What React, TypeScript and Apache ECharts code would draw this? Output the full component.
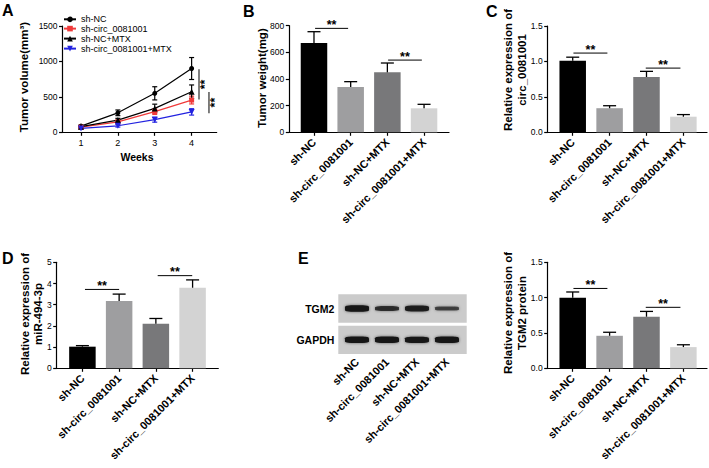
import React, { useEffect, useRef } from "react";
import * as echarts from "echarts";

const FONT = "'Liberation Sans', Arial, sans-serif";

// ---------- data ----------
const groups = ["sh-NC", "sh-circ_0081001", "sh-NC+MTX", "sh-circ_0081001+MTX"];
const weeks = [1, 2, 3, 4];
const weekTicks = [1, 2, 3, 4];

const volNC = [88, 275, 550, 900];
const volNCErr = [15, 40, 93, 155];
const volCirc = [72, 148, 292, 455];
const volCircErr = [10, 20, 40, 55];
const volNCMTX = [80, 172, 337, 573];
const volNCMTXErr = [12, 25, 60, 95];
const volCircMTX = [55, 92, 178, 288];
const volCircMTXErr = [8, 18, 35, 45];

const weightVals = [670, 340, 450, 180];
const weightErr = [85, 40, 70, 30];
const circVals = [1.01, 0.34, 0.78, 0.22];
const circErr = [0.05, 0.035, 0.08, 0.03];
const mirVals = [1.02, 3.18, 2.1, 3.8];
const mirErr = [0.05, 0.32, 0.25, 0.37];
const tgm2Vals = [1.0, 0.46, 0.73, 0.3];
const tgm2Err = [0.08, 0.05, 0.075, 0.033];

const blotTGM2 = [1.0, 0.6, 0.9, 0.4];
const blotGAPDH = [1.0, 1.0, 0.97, 1.0];

// significance brackets: [from, to, level]
const sigA = [[4.2, 890, 462], [4.47, 570, 268]];
const sigB = [[0.03, 0.93, 780], [2.02, 2.94, 542]];
const sigC = [[0.02, 0.94, 1.118], [1.98, 2.92, 0.906]];
const sigD = [[0.07, 1.0, 3.72], [2.05, 2.99, 4.37]];
const sigE = [[0.02, 0.94, 1.13], [1.98, 2.92, 0.863]];

const catIdx = [0, 1, 2, 3];
const barColors = ["#000000", "#9e9ea0", "#78787a", "#d3d3d3"];

// ---------- helpers ----------
const axisLine = { show: true, onZero: false, lineStyle: { color: "#000", width: 1.2 } };
const tickStyle = { color: "#000", width: 1.2 };
const CAT_FONT = 11;

function yAxis(grid: number, min: number, max: number, interval: number, dec = 0) {
  return {
    gridIndex: grid,
    type: "value",
    min,
    max,
    interval,
    axisLine,
    axisTick: { show: true, length: 3.5, lineStyle: tickStyle },
    axisLabel: {
      fontSize: 8.5,
      color: "#000",
      margin: 5,
      fontFamily: FONT,
      formatter: (v: number) => v.toFixed(dec),
    },
    splitLine: { show: false },
  };
}

function xCat(grid: number, min: number, max: number) {
  return {
    gridIndex: grid,
    type: "value",
    min,
    max,
    axisLine,
    axisTick: { show: true, length: 3.5, customValues: catIdx, lineStyle: tickStyle },
    axisLabel: {
      customValues: catIdx,
      formatter: (v: number) => groups[Math.round(v)],
      rotate: 45,
      fontSize: CAT_FONT,
      fontWeight: "bold",
      margin: 8,
      color: "#000",
      fontFamily: FONT,
    },
    splitLine: { show: false },
  };
}

const errUp = (params: any, api: any) => {
  const x = api.value(0), v = api.value(1), e = api.value(2);
  const p0 = api.coord([x, v]);
  const p1 = api.coord([x, v + e]);
  const st = { stroke: "#000", lineWidth: 1.3 };
  return {
    type: "group",
    children: [
      { type: "line", shape: { x1: p0[0], y1: p0[1], x2: p1[0], y2: p1[1] }, style: st },
      { type: "line", shape: { x1: p1[0] - 6.5, y1: p1[1], x2: p1[0] + 6.5, y2: p1[1] }, style: st },
    ],
  };
};

const errBoth = (color: string) => (params: any, api: any) => {
  const x = api.value(0), v = api.value(1), e = api.value(2);
  const pt = api.coord([x, v + e]);
  const pb = api.coord([x, v - e]);
  const st = { stroke: color, lineWidth: 1.2 };
  return {
    type: "group",
    children: [
      { type: "line", shape: { x1: pt[0], y1: pt[1], x2: pb[0], y2: pb[1] }, style: st },
      { type: "line", shape: { x1: pt[0] - 2.5, y1: pt[1], x2: pt[0] + 2.5, y2: pt[1] }, style: st },
      { type: "line", shape: { x1: pb[0] - 2.5, y1: pb[1], x2: pb[0] + 2.5, y2: pb[1] }, style: st },
    ],
  };
};

const sigRender = (params: any, api: any) => {
  const a = api.coord([api.value(0), api.value(2)]);
  const b = api.coord([api.value(1), api.value(2)]);
  return {
    type: "group",
    children: [
      { type: "line", shape: { x1: a[0], y1: a[1], x2: b[0], y2: b[1] }, style: { stroke: "#000", lineWidth: 1 } },
      {
        type: "text",
        x: (a[0] + b[0]) / 2,
        y: a[1] + 3,
        style: {
          text: "**",
          fontSize: 12.5,
          fontWeight: "bold",
          fontFamily: FONT,
          fill: "#000",
          align: "center",
          verticalAlign: "bottom",
        },
      },
    ],
  };
};

const vSigRender = (params: any, api: any) => {
  const a = api.coord([api.value(0), api.value(1)]);
  const b = api.coord([api.value(0), api.value(2)]);
  return {
    type: "group",
    children: [
      { type: "line", shape: { x1: a[0], y1: a[1], x2: b[0], y2: b[1] }, style: { stroke: "#555", lineWidth: 1.5 } },
      {
        type: "text",
        x: a[0] + 6.5,
        y: (a[1] + b[1]) / 2,
        rotation: Math.PI / 2,
        style: {
          text: "**",
          fontSize: 12.5,
          fontWeight: "bold",
          fontFamily: FONT,
          fill: "#000",
          align: "center",
          verticalAlign: "middle",
        },
      },
    ],
  };
};

function txt(text: string, x: number, y: number, size: number, opts: any = {}) {
  return {
    type: "text",
    x,
    y,
    rotation: opts.rot || 0,
    style: {
      text,
      fontSize: size,
      fontWeight: opts.weight || "bold",
      fontFamily: FONT,
      fill: "#000",
      align: opts.align || "center",
      verticalAlign: opts.va || "middle",
      textAlign: opts.align || "center",
      textVerticalAlign: opts.va || "middle",
    },
  };
}

function barSeries(grid: number, vals: number[], errs: number[], sig: number[][]) {
  return [
    {
      type: "bar",
      xAxisIndex: grid,
      yAxisIndex: grid,
      barWidth: 26.5,
      data: vals.map((v, i) => ({ value: [i, v], itemStyle: { color: barColors[i] } })),
    },
    {
      type: "custom",
      xAxisIndex: grid,
      yAxisIndex: grid,
      renderItem: errUp,
      data: vals.map((v, i) => [i, v, errs[i]]),
      z: 5,
    },
    {
      type: "custom",
      xAxisIndex: grid,
      yAxisIndex: grid,
      renderItem: sigRender,
      data: sig,
      z: 5,
    },
  ];
}

const lineDefs = [
  { name: groups[0], vals: volNC, errs: volNCErr, color: "#000000", symbol: "circle", size: 5, rot: 0 },
  { name: groups[1], vals: volCirc, errs: volCircErr, color: "#f03a3a", symbol: "rect", size: 5, rot: 0 },
  { name: groups[2], vals: volNCMTX, errs: volNCMTXErr, color: "#000000", symbol: "triangle", size: 6, rot: 0 },
  { name: groups[3], vals: volCircMTX, errs: volCircMTXErr, color: "#2222e0", symbol: "triangle", size: 6, rot: 180 },
];
const legendTops = [14.8, 24.1, 34.1, 44.1];

export default function App() {
  const ref = useRef<HTMLDivElement>(null);
  useEffect(() => {
    if (!ref.current) return;
    const chart = echarts.init(ref.current, null, { renderer: "svg" });

    const series: any[] = [];
    lineDefs.forEach((d) => {
      series.push({
        type: "line",
        name: d.name,
        xAxisIndex: 0,
        yAxisIndex: 0,
        data: weeks.map((w, i) => [w, d.vals[i]]),
        symbol: d.symbol,
        symbolSize: d.size,
        symbolRotate: d.rot,
        color: d.color,
        itemStyle: { color: d.color },
        lineStyle: { color: d.color, width: 1.2 },
        z: 3,
      });
      series.push({
        type: "custom",
        xAxisIndex: 0,
        yAxisIndex: 0,
        renderItem: errBoth(d.color),
        data: weeks.map((w, i) => [w, d.vals[i], d.errs[i]]),
        z: 2,
      });
    });
    series.push({ type: "custom", xAxisIndex: 0, yAxisIndex: 0, renderItem: vSigRender, data: sigA, z: 5 });

    series.push(...barSeries(1, weightVals, weightErr, sigB));
    series.push(...barSeries(2, circVals, circErr, sigC));
    series.push(...barSeries(3, mirVals, mirErr, sigD));
    series.push(...barSeries(6, tgm2Vals, tgm2Err, sigE));

    const bandSeries = (grid: number, vals: number[]) => ({
      type: "scatter",
      xAxisIndex: grid,
      yAxisIndex: grid,
      symbol: "roundRect",
      symbolSize: (val: number[]) => [24, 2.5 + 4 * val[2]],
      data: vals.map((v, i) => ({ value: [i, 0, v], itemStyle: { opacity: 0.45 + 0.55 * v } })),
      itemStyle: { color: "#141414", shadowBlur: 3, shadowColor: "rgba(0,0,0,0.55)" },
    });
    series.push(bandSeries(4, blotTGM2));
    series.push(bandSeries(5, blotGAPDH));

    const option: any = {
      animation: false,
      backgroundColor: "#ffffff",
      textStyle: { fontFamily: FONT },
      legend: lineDefs.map((d, i) => ({
        data: [d.name],
        left: 63,
        top: legendTops[i],
        orient: "vertical",
        itemWidth: 12,
        itemHeight: 7,
        padding: 0,
        itemGap: 0,
        selectedMode: false,
        textStyle: { fontSize: 9, color: "#000", fontFamily: FONT },
      })),
      grid: [
        { left: 62.55, top: 26, width: 154.15, height: 106.3 },
        { left: 289.3, top: 25.7, width: 159.7, height: 106.6 },
        { left: 547.7, top: 26, width: 159.3, height: 106.3 },
        { left: 56.7, top: 262.3, width: 161.6, height: 106 },
        { left: 338.3, top: 294.3, width: 128.4, height: 28.4, show: true, backgroundColor: "#cbcbcb", borderWidth: 0 },
        { left: 338.3, top: 325.7, width: 128.4, height: 28.3, show: true, backgroundColor: "#cbcbcb", borderWidth: 0 },
        { left: 547.7, top: 262.3, width: 159.3, height: 106 },
      ],
      xAxis: [
        {
          gridIndex: 0,
          type: "value",
          min: 0.5,
          max: 4.68,
          axisLine,
          axisTick: { show: true, length: 3.5, customValues: weekTicks, lineStyle: tickStyle },
          axisLabel: {
            customValues: weekTicks,
            fontSize: 9,
            color: "#000",
            margin: 6,
            fontFamily: FONT,
          },
          splitLine: { show: false },
        },
        xCat(1, -0.673, 3.68),
        xCat(2, -0.678, 3.64),
        xCat(3, -0.7, 3.7),
        { gridIndex: 4, type: "value", min: -0.623, max: 3.657, show: false },
        {
          gridIndex: 5,
          type: "value",
          min: -0.623,
          max: 3.657,
          axisLine: { show: false, onZero: false },
          axisTick: { show: false },
          splitLine: { show: false },
          axisLabel: {
            customValues: catIdx,
            formatter: (v: number) => groups[Math.round(v)],
            rotate: 45,
            fontSize: CAT_FONT,
            fontWeight: "bold",
            margin: 6,
            color: "#000",
            fontFamily: FONT,
          },
        },
        xCat(6, -0.678, 3.64),
      ],
      yAxis: [
        yAxis(0, 0, 1500, 500),
        yAxis(1, 0, 800, 200),
        yAxis(2, 0, 1.5, 0.5, 1),
        yAxis(3, 0, 5, 1),
        {
          gridIndex: 4,
          type: "category",
          data: ["TGM2"],
          axisLine: { show: false, onZero: false },
          axisTick: { show: false },
          axisLabel: { fontSize: 10.5, fontWeight: "bold", margin: 4, color: "#000", fontFamily: FONT },
        },
        {
          gridIndex: 5,
          type: "category",
          data: ["GAPDH"],
          axisLine: { show: false, onZero: false },
          axisTick: { show: false },
          axisLabel: { fontSize: 10.5, fontWeight: "bold", margin: 4, color: "#000", fontFamily: FONT },
        },
        yAxis(6, 0, 1.5, 0.5, 1),
      ],
      graphic: [
        txt("A", 2, 2, 16, { align: "left", va: "top" }),
        txt("B", 243, 3, 16, { align: "left", va: "top" }),
        txt("C", 486, 3, 16, { align: "left", va: "top" }),
        txt("D", 2, 250, 16, { align: "left", va: "top" }),
        txt("E", 298, 250, 16, { align: "left", va: "top" }),
        txt("Tumor volume(mm\u00B3)", 24, 77, 11.5, { rot: Math.PI / 2 }),
        txt("Weeks", 137, 157, 10.5),
        txt("Tumor weight(mg)", 262.3, 78, 11.5, { rot: Math.PI / 2 }),
        txt("Relative expression of", 508.3, 70, 11.5, { rot: Math.PI / 2 }),
        txt("circ_0081001", 521.7, 70, 11.5, { rot: Math.PI / 2 }),
        txt("Relative expression of", 25.3, 314, 11.5, { rot: Math.PI / 2 }),
        txt("miR-494-3p", 37.7, 314, 11.5, { rot: Math.PI / 2 }),
        txt("Relative expression of", 508.3, 313, 11.5, { rot: Math.PI / 2 }),
        txt("TGM2 protein", 521.7, 313, 11.5, { rot: Math.PI / 2 }),
      ],
      series,
    };
    chart.setOption(option);
    return () => chart.dispose();
  }, []);
  return (
    <div
      ref={ref}
      style={{ position: "fixed", left: 0, top: 0, width: 709, height: 468, background: "#fff" }}
    />
  );
}
